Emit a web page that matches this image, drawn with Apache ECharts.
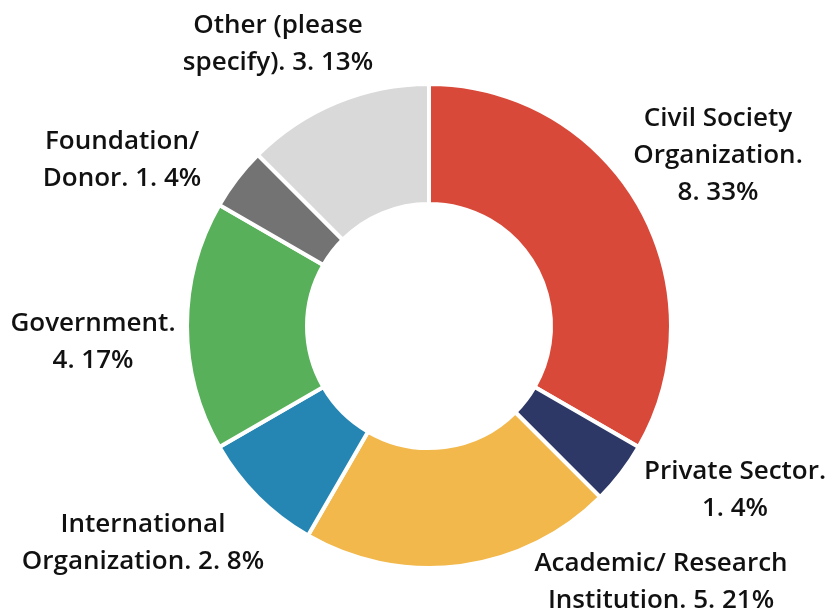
<!DOCTYPE html>
<html>
<head>
<meta charset="utf-8">
<script src="https://cdn.jsdelivr.net/npm/echarts@6/dist/echarts.min.js"></script>
<style>
	html,body{margin:0;padding:0;background:#fff;}
	#chart{width:833px;height:614px;}
</style>
</head>
<body>
<div id="chart"></div>
<script>
// data
var categories = ['Civil Society\nOrganization.', 'Private Sector.', 'Academic/ Research\nInstitution.', 'International\nOrganization.', 'Government.', 'Foundation/\nDonor.', 'Other (please\nspecify).'];
var counts = [8, 1, 5, 2, 4, 1, 3];
var percents = ['33%', '4%', '21%', '8%', '17%', '4%', '13%'];
var colors = ['#D9493A', '#2E3866', '#F2B84B', '#2586B4', '#58B05A', '#737373', '#D9D9D9'];

// how the value line is joined to the name (new line or same line)
var joiners = ['\n', '\n', ' ', ' ', '\n', ' ', ' '];

// label block centres (layout only)
var labelPos = [[718,156],[735,490],[661,582],[143,543],[93,342],[122,160],[278,44]];

var myChart = echarts.init(document.getElementById('chart'));
myChart.setOption({
	animation:false,
	color:colors,
	series:[
		{
			type:'pie',
			center:[429,326],
			radius:[122,242],
			startAngle:90,
			clockwise:true,
			itemStyle:{
				borderColor:'#ffffff',
				borderWidth:4
			},
			label:{
				show:true,
				position:'outside',
				overflow:'none',
				alignTo:'none',
				edgeDistance:0,
				color:'#111111',
				fontFamily:'Open Sans',
				fontWeight:600,
				fontSize:26,
				lineHeight:37,
				align:'center',
				formatter:function(p){
					var i = p.dataIndex;
					return categories[i] + joiners[i] + counts[i] + '. ' + percents[i];
				}
			},
			labelLine:{show:false},
			labelLayout:function(params){
				var pos = labelPos[params.dataIndex];
				return {
					x:pos[0],
					y:pos[1],
					align:'center',
					verticalAlign:'middle'
				};
			},
			data:counts.map(function(v,i){
				return {value:v, name:categories[i]};
			})
		}
	]
});
</script>
</body>
</html>
